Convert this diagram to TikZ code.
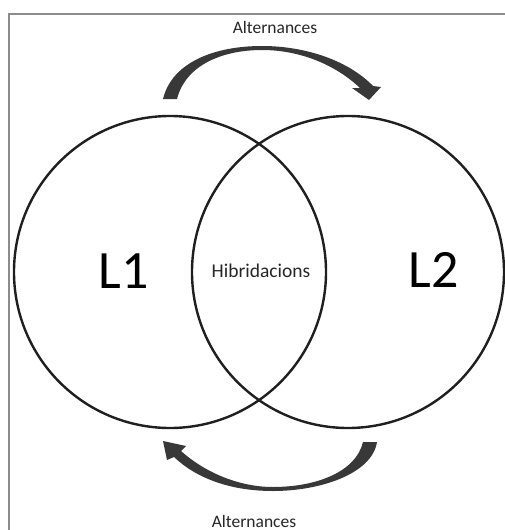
\documentclass[tikz,border=0pt]{standalone}
\usepackage{fontspec}
\setmainfont{Carlito}
\begin{document}
\begin{tikzpicture}[x=1pt,y=-1pt,
  ring/.style={draw=black!88,line width=2.4pt},
  frameline/.style={draw=black!45,line width=2pt},
  bigarrow/.style={fill=black!78,draw=none},
  lab/.style={inner sep=0pt,font=\fontsize{17.5}{20}\selectfont,text=black!85},
  big/.style={inner sep=0pt,font=\fontsize{54}{60}\selectfont,text=black}]
\useasboundingbox (0,0) rectangle (505,530);
\draw[frameline] (9,531) -- (9,14) -- (506,14);
\node[ring,circle,minimum size=312pt,inner sep=0pt] (c1) at (170,272) {};
\node[ring,circle,minimum size=312pt,inner sep=0pt] (c2) at (348,272) {};
\node[big,anchor=base east] (l1) at (149,288) {L1};
\node[big,anchor=base east] (l2) at (459,287) {L2};
\node[lab,font=\fontsize{19.5}{22}\selectfont,anchor=base] (h) at (261,277) {Hibridacions};
\node[lab,anchor=base] (t1) at (275,33) {Alternances};
\node[lab,anchor=base] (t2) at (254,527) {Alternances};
% top arrow
\fill[bigarrow] (163,99) .. controls (172,62) and (215,46) .. (262,46)
  .. controls (308,46) and (350,62) .. (373,86)
  -- (381,87) -- (369,100) -- (352,88) -- (360,88)
  .. controls (338,67) and (303,50) .. (262,50)
  .. controls (224,50) and (186,64) .. (177,99) -- cycle;
% bottom arrow
\fill[bigarrow] (377,442) .. controls (372,474) and (320,491) .. (273,491)
  .. controls (230,491) and (196,478) .. (174,457)
  -- (167,460) -- (163,441) -- (186,446) -- (181,451)
  .. controls (202,470) and (236,487) .. (273,487)
  .. controls (316,487) and (356,472) .. (363,442) -- cycle;
\end{tikzpicture}
\end{document}
